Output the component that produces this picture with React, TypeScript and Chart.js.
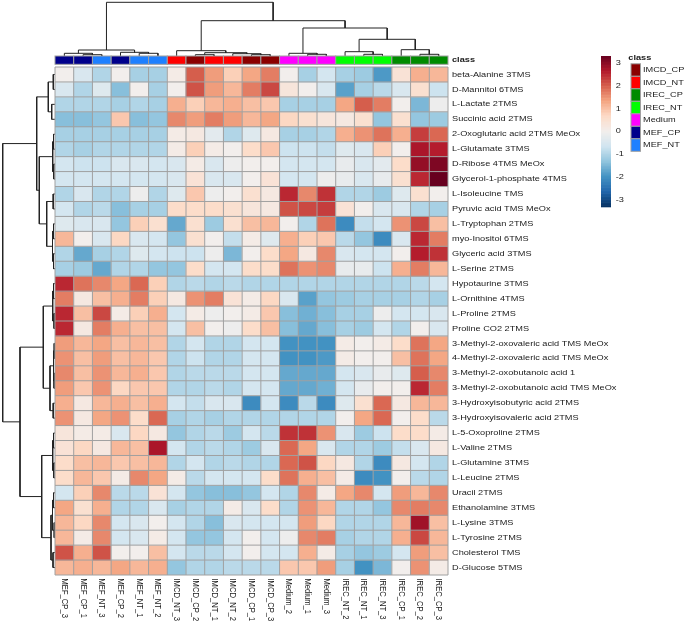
import React, { useEffect, useRef } from "react";
import { Chart, registerables } from "chart.js";

Chart.register(...registerables);

// ---------------- DATA ----------------
const columnLabels = [
  "MEF_CP_3", "MEF_CP_1", "MEF_NT_3", "MEF_CP_2", "MEF_NT_1", "MEF_NT_2",
  "IMCD_NT_3", "IMCD_CP_2", "IMCD_NT_1", "IMCD_NT_2", "IMCD_CP_1", "IMCD_CP_3",
  "Medium_2", "Medium_1", "Medium_3",
  "IREC_NT_2", "IREC_NT_1", "IREC_NT_3", "IREC_CP_1", "IREC_CP_2", "IREC_CP_3",
];

const rowLabels = [
  "beta-Alanine 3TMS", "D-Mannitol 6TMS", "L-Lactate 2TMS", "Succinic acid 2TMS",
  "2-Oxoglutaric acid 2TMS MeOx", "L-Glutamate 3TMS", "D-Ribose 4TMS MeOx",
  "Glycerol-1-phosphate 4TMS", "L-Isoleucine TMS", "Pyruvic acid TMS MeOx",
  "L-Tryptophan 2TMS", "myo-Inositol 6TMS", "Glyceric acid 3TMS", "L-Serine 2TMS",
  "Hypotaurine 3TMS", "L-Ornithine 4TMS", "L-Proline 2TMS", "Proline CO2 2TMS",
  "3-Methyl-2-oxovaleric acid TMS MeOx", "4-Methyl-2-oxovaleric acid TMS MeOx",
  "3-Methyl-2-oxobutanoic acid 1", "3-Methyl-2-oxobutanoic acid TMS MeOx",
  "3-Hydroxyisobutyric acid 2TMS", "3-Hydroxyisovaleric acid 2TMS",
  "L-5-Oxoproline 2TMS", "L-Valine 2TMS", "L-Glutamine 3TMS", "L-Leucine 2TMS",
  "Uracil 2TMS", "Ethanolamine 3TMS", "L-Lysine 3TMS", "L-Tyrosine 2TMS",
  "Cholesterol TMS", "D-Glucose 5TMS",
];

// row-scaled values (z-scores), one row per metabolite, columns in the order above
const zScores: number[][] = [
  [0, -0.5, -1.0, 0, -1.1, -1.1, 0.1, 2.0, 1.4, 0.8, 1.3, 1.7, 0, -1.1, -0.6, -1.1, -1.2, -1.9, 0.4, 1.2, 1.1],
  [-0.5, -1.0, -0.4, -1.4, 0, -1.1, 0, 2.1, 1.4, 1.1, 1.7, 2.2, 0.3, 0, -0.5, -1.8, -1.1, -0.9, -0.5, 0.5, -0.7],
  [-1.0, -1.0, -1.0, -1.1, -1.0, -1.1, 1.2, 0.8, 1.1, 1.2, 1.0, 0.9, -1.1, -1.1, -1.1, 1.3, 2.0, 1.7, 0, -1.5, -0.1],
  [-1.4, -1.4, -1.3, 0.9, -1.4, -1.3, 1.6, 1.4, 1.7, 1.4, 1.1, 1.3, 0.7, 0.5, 0.3, 0.2, 0.5, -1.3, 0.5, -1.3, -1.2],
  [-1.1, -1.1, -1.1, -1.1, -1.1, -1.1, 0.1, 0.2, -0.3, -1.0, -0.4, 0.2, -1.1, -1.1, -1.0, 1.2, 1.5, 1.8, 1.2, 2.3, 1.9],
  [-1.0, -1.1, -1.0, -1.0, -1.0, -1.0, 0.1, 0.8, 0.1, 0, 0.6, 0.9, -0.7, -0.7, -0.8, -0.4, -0.5, 0.8, 0, 2.7, 2.6],
  [-0.6, -0.7, -0.7, -0.5, -0.5, -0.6, -0.5, 0.1, -0.5, -0.1, 0, 0, -0.6, -0.6, -0.6, -0.2, -0.5, -0.3, 0.6, 2.9, 3.1],
  [-0.6, -0.6, -0.6, -0.6, -0.6, -0.6, -0.5, 0.4, -0.5, -0.5, 0, 0.4, -0.6, -0.6, -0.1, -0.2, -0.5, -0.2, 0.5, 2.5, 3.4],
  [-1.0, -0.5, -1.0, -1.0, -0.1, -1.0, -0.4, 0.9, -0.1, 0, 0.5, 0.2, 2.5, 1.6, 2.4, -1.0, -1.0, -1.2, -0.4, 0.5, 0],
  [-0.6, -1.0, -0.9, -1.4, -1.1, -1.1, 0.6, 0.6, 0.6, 0.5, 0.3, 0.2, 2.1, 2.2, 2.3, 0.4, 0, -0.5, -0.5, -1.0, -1.1],
  [-0.4, -0.5, -0.5, -1.3, 0.8, 0.5, -1.7, 0.5, -1.2, 0.5, 1.0, 1.1, 0, -1.0, 1.8, -2.1, -0.8, -0.6, 1.5, 2.2, 1.0],
  [1.1, 0, -0.5, 0.7, -0.5, -0.6, -1.3, 0.5, 0, -0.8, 0.1, -0.4, 1.2, 0.8, 0.9, -0.9, -1.3, -2.1, -0.5, 2.5, 1.7],
  [-1.0, -1.7, -1.1, -1.0, -0.4, -0.6, -0.7, -0.7, -0.1, -1.5, 0, 0.6, 1.3, 0.2, 1.6, -0.5, -0.6, -0.6, 0, 2.6, 2.4],
  [-1.1, -1.2, -1.7, -1.0, -1.0, -1.3, -1.3, 0.6, -0.6, -0.6, 0.6, 0.6, 1.8, 1.5, 1.6, -0.2, -0.2, -0.7, 1.2, 1.7, 1.1],
  [2.5, 1.8, 1.6, 1.3, 1.9, 0.8, -1.0, -0.9, -1.0, -0.9, -1.0, -1.0, -1.0, -1.0, -1.0, -1.0, -1.0, -1.0, -1.0, -0.9, -0.6],
  [1.7, 0.2, 1.0, 1.2, 1.7, 0.8, 0.2, 1.5, 1.7, 0.4, 0.1, 0.7, -0.5, -1.8, -1.3, -1.2, -1.1, -1.1, -1.1, -1.0, -1.1],
  [2.5, 1.0, 2.2, 0.1, 0.8, 1.2, -0.6, 0.1, -0.1, 0, 0.1, 0.9, -1.4, -1.6, -1.4, -1.1, -1.1, -0.1, -0.6, -0.6, -0.5],
  [2.5, 0.2, 1.7, 1.2, 1.0, 1.0, -0.6, 1.0, 0, -0.1, 0.6, 1.0, -1.4, -1.7, -1.4, -1.1, -1.2, -0.6, -1.0, 0, -0.5],
  [1.4, 1.1, 1.3, 1.0, 1.1, 1.0, -1.0, -0.6, -1.0, -1.0, -0.6, -0.6, -2.0, -2.0, -2.0, 0.1, 0, 0.1, 0.6, 1.8, 1.3],
  [1.5, 1.0, 1.4, 1.0, 1.1, 0.9, -1.0, -0.7, -1.0, -1.0, -0.6, -0.6, -2.0, -2.0, -1.9, 0.1, 0, 0, 1.0, 1.8, 1.3],
  [1.6, 1.0, 1.5, 1.1, 1.2, 0.9, -1.0, -0.9, -0.9, -0.9, -0.6, -0.6, -1.7, -1.7, -1.7, -0.6, -0.5, -0.2, -0.4, 2.0, 1.6],
  [1.4, 0.9, 1.5, 0.7, 0.9, 0.9, -1.0, -1.0, -0.9, -1.0, -0.6, -0.6, -1.7, -1.7, -1.6, -0.6, -0.2, 0, 0, 2.5, 1.7],
  [1.2, 0.2, 1.1, 1.2, 1.0, 1.2, -0.6, -0.8, -0.5, -0.5, -2.1, -0.6, -2.1, -0.9, -2.1, -0.4, 0.5, 1.9, 0.2, 1.1, 1.1],
  [1.5, 0.2, 1.3, 1.5, 0.6, 1.9, -1.1, -1.0, -1.1, -1.0, -1.0, -1.0, -1.0, -1.0, -1.0, 0, 1.3, 1.9, 0, 0.6, -0.9],
  [0.3, 0.1, 0.1, -0.5, 0.7, 0.2, -1.3, -1.0, -0.9, -1.2, -0.6, -0.9, 2.4, 2.4, 1.5, -0.5, -1.2, -0.7, 0.6, 0.6, 0.1],
  [0.4, 0.7, 0.2, 1.1, 1.0, 2.7, -0.6, -1.0, -0.9, -1.0, -1.2, -0.5, 1.9, 1.3, -0.5, -1.0, -1.0, -1.2, -0.8, -0.5, 0.2],
  [0.6, 1.0, 1.1, 0.9, 1.0, 1.1, -1.0, -0.6, -1.0, -0.9, -1.0, -1.0, 1.9, 2.1, 0.7, 0.2, -1.0, -2.1, 0.2, -0.6, -1.0],
  [0.6, 1.1, 0.9, 0.1, 1.6, 1.3, 0.1, -0.9, -0.6, -0.6, -0.6, 0.6, 1.8, 1.2, 1.0, 0.1, -2.1, -2.0, 0, -0.9, -1.0],
  [-0.6, 0.8, 1.6, -0.9, -0.9, 0.4, -0.6, -1.3, -1.4, -1.4, -1.3, -0.6, -1.0, 1.6, 0.1, 1.3, 1.6, -0.6, 1.4, 1.1, 1.6],
  [1.3, 0.5, 1.2, -1.0, -1.0, -0.5, -1.1, -1.0, -1.0, 0.1, -0.5, 0.6, -1.0, 1.5, 1.1, -1.0, -1.0, -1.3, 1.6, 1.7, 1.6],
  [1.1, 0.7, 1.6, -0.6, -0.5, 0, -0.6, -1.0, -1.4, -0.5, -0.6, -0.6, -0.6, 1.4, 0.7, -1.0, -1.0, -1.0, 1.1, 2.8, 1.0],
  [1.1, 0.1, 1.6, -0.6, -0.5, 0.1, -0.6, -1.3, -1.3, -0.6, 0, -0.6, -0.1, 1.6, 1.7, -1.1, -1.0, -1.0, 1.2, 2.2, 1.1],
  [2.1, 1.2, 2.1, 0, 0, 1.0, -0.6, -0.9, -0.9, -0.6, 0, -0.6, -0.6, 1.2, 0.1, -1.1, -1.3, -1.2, -0.6, 1.4, 1.0],
  [1.1, 1.2, 1.1, 1.3, 1.1, 1.2, -1.3, -1.0, -1.0, -0.9, -0.9, -0.9, 0.9, 0.9, 1.4, -1.1, -2.0, -1.5, 0, 1.5, 0.1],
];

const classNames = ["IMCD_CP", "IMCD_NT", "IREC_CP", "IREC_NT", "Medium", "MEF_CP", "MEF_NT"];
const classColors = ["#8b0000", "#ff0000", "#008b00", "#00ff00", "#ff00ff", "#00008b", "#1e80ff"];

const legendTicks = [3, 2, 1, 0, -1, -2, -3];
const colorRange = [-3.3, 3.3];
const paletteStops = [
  "#053061", "#2166ac", "#4393c3", "#92c5de", "#d1e5f0", "#f2eeec",
  "#fddbc7", "#f4a582", "#d6604d", "#b2182b", "#67001f",
];

// hclust-style merges: negative = leaf (-(index+1)), positive = earlier merge (1-based)
const colMergeLeft = [-2, -1, -5, -4, 2, -8, -11, -10, 6, -7, -14, -13, -17, -16, -20, -19, 14, 12, 10, 5];
const colMergeRight = [-3, 1, -6, 3, 4, -9, -12, 7, 8, 9, -15, 11, -18, 13, -21, 15, 16, 17, 18, 19];
const colMergeHeight = [1.3, 2.7, 2.7, 3.7, 6.0, 1.3, 1.3, 2.3, 3.3, 5.3, 1.7, 2.7, 1.7, 4.3, 1.7, 6.3, 16.7, 28.0, 35.3, 53.7];

const rowMergeLeft = [-1, -3, 1, -5, -7, 4, -9, -11, -13, 8, 7, 6, 3, -15, -17, 14, -19, -21, 17, -23, 19, 16, -25, -27, 23, -29, -31, 26, -33, 28, 25, 22, 13];
const rowMergeRight = [-2, -4, 2, -6, -8, 5, -10, -12, -14, 9, 10, 11, 12, -16, -18, 15, -20, -22, 18, -24, 20, 21, -26, -28, 24, -30, -32, 27, -34, 29, 30, 31, 32];
const rowMergeHeight = [1.7, 3.3, 6.7, 1.5, 1.2, 2.3, 1.8, 1.5, 1.5, 2.5, 8.3, 15.7, 18.3, 1.5, 1.0, 2.3, 0.8, 1.0, 1.5, 1.8, 5.0, 11.7, 1.5, 1.2, 2.3, 1.5, 0.8, 2.5, 2.0, 4.0, 13.3, 35.0, 52.3];

// ---------------- LAYOUT / STYLE ----------------
const CW = 685, CH = 631;
const HM_LEFT = 55, HM_RIGHT = 448, HM_TOP = 67, HM_BOTTOM = 575;
const COL_DENDRO_BASE = 56; // pixel where column leaves end (px per height unit = 1)
const ROW_DENDRO_BASE = 55;
const GRID_COLOR = "#a0a0a0";
const TEXT_COLOR = "#1a1a1a";
const FONT_SIZE = 9.2;
const V_SQUASH = 0.83;
const FONT_FAMILY = '"Liberation Sans", Arial, sans-serif';

function hexToRgb(h: string) {
  const n = parseInt(h.slice(1), 16);
  return [(n >> 16) & 255, (n >> 8) & 255, n & 255];
}
const stopRgb = paletteStops.map(hexToRgb);
function colorFor(v: number) {
  let t = (v - colorRange[0]) / (colorRange[1] - colorRange[0]);
  t = Math.max(0, Math.min(1, t));
  const pos = t * (stopRgb.length - 1);
  const i = Math.min(stopRgb.length - 2, Math.floor(pos));
  const f = pos - i;
  const a = stopRgb[i], b = stopRgb[i + 1];
  const c = a.map((av, k) => Math.round(av + (b[k] - av) * f));
  return `rgb(${c[0]},${c[1]},${c[2]})`;
}

function classOf(col: string) {
  return col.replace(/_\d+$/, "");
}

function dendroPoints(left: number[], right: number[], heights: number[], leafPos: (i: number) => number, vertical: boolean) {
  const pos: number[] = [];
  const hts: number[] = [];
  const pts: any[] = [];
  const nPos = (k: number) => (k < 0 ? leafPos(-k - 1) : pos[k - 1]);
  const nH = (k: number) => (k < 0 ? 0 : hts[k - 1]);
  for (let i = 0; i < left.length; i++) {
    const pa = nPos(left[i]), pb = nPos(right[i]);
    const ha = nH(left[i]), hb = nH(right[i]);
    const h = heights[i];
    pos.push((pa + pb) / 2);
    hts.push(h);
    const seg: [number, number][] = [[pa, ha], [pa, h], [pb, h], [pb, hb]];
    for (const [p, hh] of seg) pts.push(vertical ? { x: p, y: hh } : { x: hh, y: p });
    pts.push(vertical ? { x: pa, y: null } : { x: 0, y: null });
  }
  return pts;
}

function drawText(ctx: CanvasRenderingContext2D, text: string, x: number, y: number, opts: { bold?: boolean; align?: CanvasTextAlign; rotate?: boolean } = {}) {
  ctx.save();
  ctx.translate(x, y);
  ctx.scale(1, V_SQUASH);
  if (opts.rotate) ctx.rotate(Math.PI / 2);
  ctx.font = `${opts.bold ? "bold " : ""}${FONT_SIZE}px ${FONT_FAMILY}`;
  ctx.fillStyle = TEXT_COLOR;
  ctx.textAlign = opts.align || "left";
  ctx.textBaseline = "middle";
  ctx.fillText(text, 0, 0);
  ctx.restore();
}

const decorPlugin = {
  id: "heatDecor",
  afterDatasetsDraw(chart: any) {
    const ctx: CanvasRenderingContext2D = chart.ctx;
    const xs = chart.scales.x, ys = chart.scales.y;
    const nC = columnLabels.length, nR = rowLabels.length;
    const top = ys.getPixelForValue(0), bottom = ys.getPixelForValue(nR);
    const left = xs.getPixelForValue(0), right = xs.getPixelForValue(nC);
    ctx.save();
    // cell borders
    ctx.strokeStyle = GRID_COLOR;
    ctx.lineWidth = 1;
    ctx.beginPath();
    for (let c = 0; c <= nC; c++) {
      const px = xs.getPixelForValue(c);
      ctx.moveTo(px, top);
      ctx.lineTo(px, bottom);
    }
    for (let r = 0; r <= nR; r++) {
      const py = ys.getPixelForValue(r);
      ctx.moveTo(left, py);
      ctx.lineTo(right, py);
    }
    ctx.stroke();

    // class annotation bar
    const barTop = top - 11, barBottom = top - 2.7;
    for (let c = 0; c < nC; c++) {
      const x0 = xs.getPixelForValue(c), x1 = xs.getPixelForValue(c + 1);
      const ci = classNames.indexOf(classOf(columnLabels[c]));
      ctx.fillStyle = classColors[ci];
      ctx.fillRect(x0, barTop, x1 - x0, barBottom - barTop);
      ctx.strokeRect(x0, barTop, x1 - x0, barBottom - barTop);
    }
    drawText(ctx, "class", right + 4, (barTop + barBottom) / 2, { bold: true });

    // row labels
    for (let r = 0; r < nR; r++) {
      drawText(ctx, rowLabels[r], right + 4, ys.getPixelForValue(r + 0.5));
    }
    // column labels
    for (let c = 0; c < nC; c++) {
      drawText(ctx, columnLabels[c], xs.getPixelForValue(c + 0.5), bottom + 3.5, { rotate: true });
    }

    // colour key
    const kx0 = 601, kx1 = 611, ky0 = 56, ky1 = 206.7;
    const steps = 100;
    for (let i = 0; i < steps; i++) {
      const v = colorRange[1] - ((i + 0.5) / steps) * (colorRange[1] - colorRange[0]);
      const y0 = ky0 + (i / steps) * (ky1 - ky0);
      ctx.fillStyle = colorFor(v);
      ctx.fillRect(kx0, y0, kx1 - kx0, (ky1 - ky0) / steps + 0.6);
    }
    for (const t of legendTicks) {
      const y = ky0 + ((colorRange[1] - t) / (colorRange[1] - colorRange[0])) * (ky1 - ky0);
      drawText(ctx, String(t), 615.8, y);
    }

    // class legend
    drawText(ctx, "class", 628.3, 57.5, { bold: true });
    const sx = 631, sw = 9.5, sy0 = 63.8, sh = 12.5;
    for (let i = 0; i < classNames.length; i++) {
      const y = sy0 + i * sh;
      ctx.fillStyle = classColors[i];
      ctx.fillRect(sx, y, sw, sh);
      ctx.strokeStyle = GRID_COLOR;
      ctx.strokeRect(sx, y, sw, sh);
      drawText(ctx, classNames[i], 643, y + sh / 2);
    }
    ctx.restore();
  },
};

export default function App() {
  const ref = useRef<HTMLCanvasElement>(null);
  useEffect(() => {
    document.body.style.margin = "0";
    const nC = columnLabels.length, nR = rowLabels.length;
    const heatDatasets = zScores.map((row, r) => ({
      type: "bar" as const,
      label: rowLabels[r],
      data: row.map((_, c) => ({ x: c + 0.5, y: [r, r + 1] })),
      backgroundColor: row.map((v) => colorFor(v)),
      borderWidth: 0,
      barPercentage: 1,
      categoryPercentage: 1,
      grouped: false,
      xAxisID: "x",
      yAxisID: "y",
    }));
    const colDendro = {
      type: "line" as const,
      label: "column dendrogram",
      data: dendroPoints(colMergeLeft, colMergeRight, colMergeHeight, (i) => i + 0.5, true),
      borderColor: "#222",
      borderWidth: 1,
      pointRadius: 0,
      fill: false,
      tension: 0,
      clip: false,
      spanGaps: false,
      xAxisID: "x",
      yAxisID: "yd",
    };
    const rowDendro = {
      type: "line" as const,
      label: "row dendrogram",
      data: dendroPoints(rowMergeLeft, rowMergeRight, rowMergeHeight, (i) => i + 0.5, false),
      borderColor: "#222",
      borderWidth: 1,
      pointRadius: 0,
      fill: false,
      tension: 0,
      clip: false,
      spanGaps: false,
      xAxisID: "xd",
      yAxisID: "y",
    };
    const hmW = HM_RIGHT - HM_LEFT, hmH = HM_BOTTOM - HM_TOP;
    const chart = new Chart(ref.current as HTMLCanvasElement, {
      type: "bar",
      data: { datasets: [...heatDatasets, colDendro, rowDendro] as any },
      options: {
        responsive: false,
        devicePixelRatio: 1,
        animation: false,
        events: [],
        layout: {
          padding: { left: HM_LEFT, right: CW - HM_RIGHT, top: HM_TOP, bottom: CH - HM_BOTTOM },
        },
        plugins: { legend: { display: false }, tooltip: { enabled: false } },
        scales: {
          x: { type: "linear", min: 0, max: nC, offset: false, display: false, beginAtZero: false },
          y: { type: "linear", min: 0, max: nR, reverse: true, display: false, beginAtZero: false },
          // height scale for column dendrogram: 1 unit = 1 px upward from COL_DENDRO_BASE
          yd: {
            type: "linear", display: false, beginAtZero: false,
            min: COL_DENDRO_BASE - HM_BOTTOM, max: COL_DENDRO_BASE - HM_BOTTOM + hmH,
          },
          // height scale for row dendrogram: 1 unit = 1 px leftward from ROW_DENDRO_BASE
          xd: {
            type: "linear", display: false, offset: false, reverse: true, beginAtZero: false,
            min: ROW_DENDRO_BASE - HM_RIGHT, max: ROW_DENDRO_BASE - HM_RIGHT + hmW,
          },
        },
      } as any,
      plugins: [decorPlugin],
    });
    return () => chart.destroy();
  }, []);
  return (
    <div style={{ width: CW, height: CH, background: "#ffffff" }}>
      <canvas ref={ref} width={CW} height={CH} style={{ display: "block" }} />
    </div>
  );
}
